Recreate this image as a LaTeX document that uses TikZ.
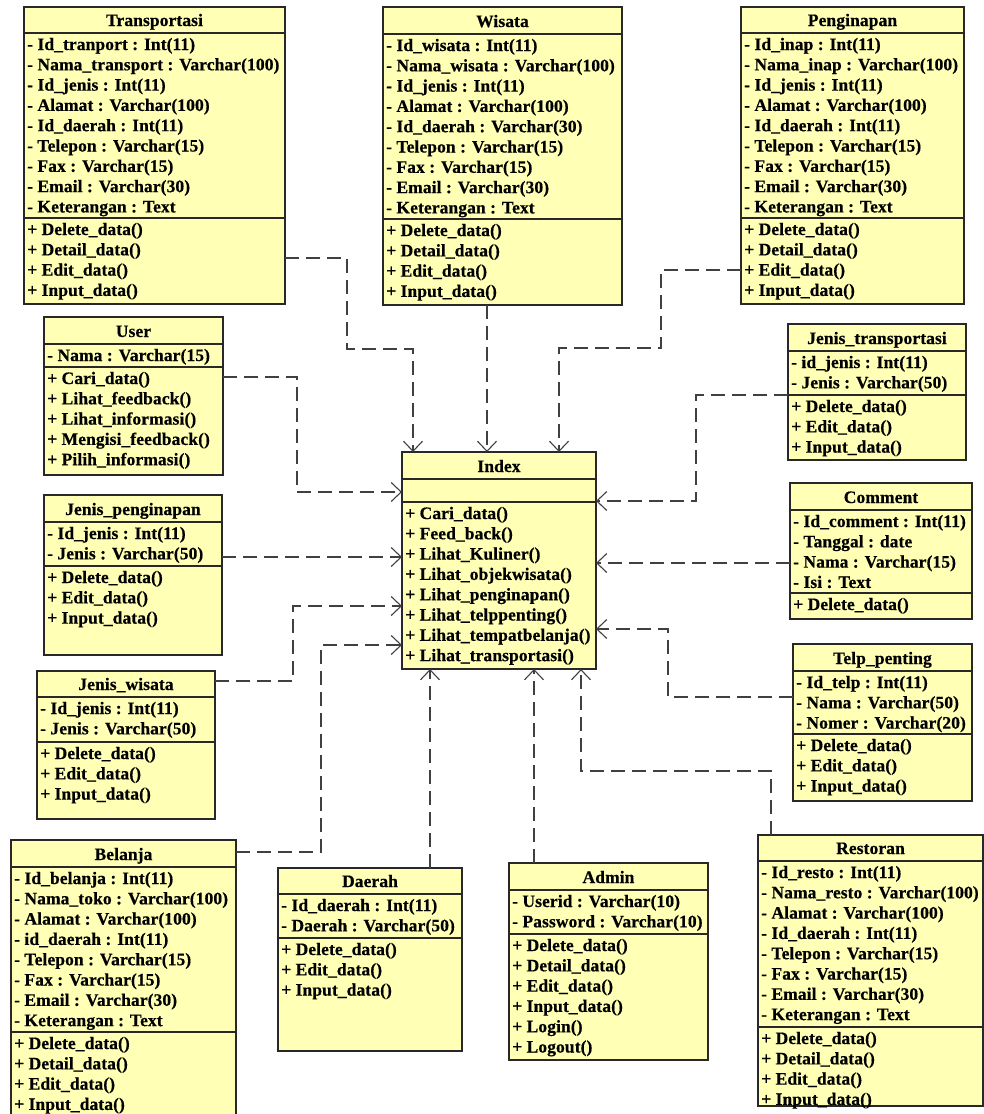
\documentclass[tikz,border=0pt]{standalone}
\usepackage{fontspec}
\setmainfont{Liberation Serif}
\newfontfamily\umlface[LetterSpace=0.5, BoldFeatures={FakeBold=0.5}]{Liberation Serif}
\usetikzlibrary{arrows.meta}

\definecolor{classfill}{RGB}{255,255,181}
\definecolor{edgeline}{RGB}{40,40,40}
\definecolor{linkline}{RGB}{64,64,64}

\newcommand{\umlfont}{\umlface\bfseries\fontsize{17.5}{20}\selectfont}

\tikzset{
  classbox/.style={draw=edgeline, fill=classfill, line width=1.3pt, inner sep=0pt, outer sep=0pt},
  sepline/.style={draw=edgeline, line width=1.1pt},
  classtitle/.style={anchor=base, inner sep=0pt, font=\umlfont},
  member/.style={anchor=base west, inner sep=0pt, font=\umlfont},
  dep/.style={draw=linkline, line width=1.1pt, dash pattern=on 14pt off 7pt,
    -{Straight Barb[length=10pt,width=19pt,line width=1.1pt]}},
}

% class frame: name, title, x1, y1, x2, y2, y of header line, y of separator
\newcommand{\umlbox}[8]{%
  \node[classbox, minimum width={(#5-#3)*1pt}, minimum height={(#6-#4)*1pt}]
    (#1) at ({(#3+#5)/2},{(#4+#6)/2}) {};
  \draw[sepline] (#1.west |- 0,#7) -- (#1.east |- 0,#7);
  \draw[sepline] (#1.west |- 0,#8) -- (#1.east |- 0,#8);
  \node[classtitle] (#1-title) at ({(#3+#5)/2},{#7-7}) {#2};
}
% compartment rows: name prefix, left x, top y, list of entries
\newcommand{\umlrows}[4]{%
  \foreach \m [count=\i from 0] in {#4}
    \node[member] (#1\i) at ({#2+3},{#3+17+20.3*\i}) {\m};
}

\begin{document}
\begin{tikzpicture}[x=1pt,y=-1pt]
\clip (0,0) rectangle (984,1114);
\fill[white] (0,0) rectangle (984,1114);

% ---------- classes ----------
\umlbox{trans}{Transportasi}{24}{7}{285}{304}{33}{218}
\umlrows{trans-a}{24}{33}{- Id\_tranport : Int(11), - Nama\_transport : Varchar(100), - Id\_jenis : Int(11), - Alamat : Varchar(100), - Id\_daerah : Int(11), - Telepon : Varchar(15), - Fax : Varchar(15), - Email : Varchar(30), - Keterangan : Text}
\umlrows{trans-m}{24}{218}{+ Delete\_data(), + Detail\_data(), + Edit\_data(), + Input\_data()}

\umlbox{wisata}{Wisata}{383}{7}{622}{305}{34}{219}
\umlrows{wisata-a}{383}{34}{- Id\_wisata : Int(11), - Nama\_wisata : Varchar(100), - Id\_jenis : Int(11), - Alamat : Varchar(100), - Id\_daerah : Varchar(30), - Telepon : Varchar(15), - Fax : Varchar(15), - Email : Varchar(30), - Keterangan : Text}
\umlrows{wisata-m}{383}{219}{+ Delete\_data(), + Detail\_data(), + Edit\_data(), + Input\_data()}

\umlbox{pengin}{Penginapan}{741}{7}{964}{304}{33}{218}
\umlrows{pengin-a}{741}{33}{- Id\_inap : Int(11), - Nama\_inap : Varchar(100), - Id\_jenis : Int(11), - Alamat : Varchar(100), - Id\_daerah : Int(11), - Telepon : Varchar(15), - Fax : Varchar(15), - Email : Varchar(30), - Keterangan : Text}
\umlrows{pengin-m}{741}{218}{+ Delete\_data(), + Detail\_data(), + Edit\_data(), + Input\_data()}

\umlbox{user}{User}{44}{317}{223}{475}{344}{367}
\umlrows{user-a}{44}{344}{- Nama : Varchar(15)}
\umlrows{user-m}{44}{367}{+ Cari\_data(), + Lihat\_feedback(), + Lihat\_informasi(), + Mengisi\_feedback(), + Pilih\_informasi()}

\umlbox{jpeng}{Jenis\_penginapan}{44}{495}{222}{655}{522}{566}
\umlrows{jpeng-a}{44}{522}{- Id\_jenis : Int(11), - Jenis : Varchar(50)}
\umlrows{jpeng-m}{44}{566}{+ Delete\_data(), + Edit\_data(), + Input\_data()}

\umlbox{index}{Index}{402}{452}{596}{669}{479}{502}
\umlrows{index-m}{402}{502}{+ Cari\_data(), + Feed\_back(), + Lihat\_Kuliner(), + Lihat\_objekwisata(), + Lihat\_penginapan(), + Lihat\_telppenting(), + Lihat\_tempatbelanja(), + Lihat\_transportasi()}

\umlbox{jtrans}{Jenis\_transportasi}{788}{324}{966}{460}{351}{395}
\umlrows{jtrans-a}{788}{351}{- id\_jenis : Int(11), - Jenis : Varchar(50)}
\umlrows{jtrans-m}{788}{395}{+ Delete\_data(), + Edit\_data(), + Input\_data()}

\umlbox{comment}{Comment}{790}{483}{972}{619}{510}{593}
\umlrows{comment-a}{790}{510}{- Id\_comment : Int(11), - Tanggal : date, - Nama : Varchar(15), - Isi : Text}
\umlrows{comment-m}{790}{593}{+ Delete\_data()}

\umlbox{telp}{Telp\_penting}{793}{644}{972}{801}{671}{734}
\umlrows{telp-a}{793}{671}{- Id\_telp : Int(11), - Nama : Varchar(50), - Nomer : Varchar(20)}
\umlrows{telp-m}{793}{734}{+ Delete\_data(), + Edit\_data(), + Input\_data()}

\umlbox{jwis}{Jenis\_wisata}{37}{671}{215}{819}{697}{742}
\umlrows{jwis-a}{37}{697}{- Id\_jenis : Int(11), - Jenis : Varchar(50)}
\umlrows{jwis-m}{37}{742}{+ Delete\_data(), + Edit\_data(), + Input\_data()}

\umlbox{belanja}{Belanja}{11}{840}{236}{1125}{867}{1032}
\umlrows{belanja-a}{11}{867}{- Id\_belanja : Int(11), - Nama\_toko : Varchar(100), - Alamat : Varchar(100), - id\_daerah : Int(11), - Telepon : Varchar(15), - Fax : Varchar(15), - Email : Varchar(30), - Keterangan : Text}
\umlrows{belanja-m}{11}{1032}{+ Delete\_data(), + Detail\_data(), + Edit\_data(), + Input\_data()}

\umlbox{daerah}{Daerah}{278}{868}{462}{1051}{894}{938}
\umlrows{daerah-a}{278}{894}{- Id\_daerah : Int(11), - Daerah : Varchar(50)}
\umlrows{daerah-m}{278}{938}{+ Delete\_data(), + Edit\_data(), + Input\_data()}

\umlbox{admin}{Admin}{509}{863}{708}{1060}{890}{934}
\umlrows{admin-a}{509}{890}{- Userid : Varchar(10), - Password : Varchar(10)}
\umlrows{admin-m}{509}{934}{+ Delete\_data(), + Detail\_data(), + Edit\_data(), + Input\_data(), + Login(), + Logout()}

\umlbox{resto}{Restoran}{758}{835}{983}{1106}{861}{1027}
\umlrows{resto-a}{758}{861}{- Id\_resto : Int(11), - Nama\_resto : Varchar(100), - Alamat : Varchar(100), - Id\_daerah : Int(11), - Telepon : Varchar(15), - Fax : Varchar(15), - Email : Varchar(30), - Keterangan : Text}
\umlrows{resto-m}{758}{1027}{+ Delete\_data(), + Detail\_data(), + Edit\_data(), + Input\_data()}

% ---------- dependencies on Index ----------
\draw[dep] (trans.east |- 0,258) -| (347,349) -| (index.north -| 413,0);
\draw[dep] (wisata.south -| 487,0) -- (index.north -| 487,0);
\draw[dep] (pengin.west |- 0,270) -| (661,348) -| (index.north -| 559,0);
\draw[dep] (user.east |- 0,377) -| (297,492) -- (index.west |- 0,492);
\draw[dep] (jpeng.east |- 0,557) -- (index.west |- 0,557);
\draw[dep] (jwis.east |- 0,681) -| (293,606) -- (index.west |- 0,606);
\draw[dep] (belanja.east |- 0,852) -| (321,645) -- (index.west |- 0,645);
\draw[dep] (daerah.north -| 430,0) -- (index.south -| 430,0);
\draw[dep] (admin.north -| 534,0) -- (index.south -| 534,0);
\draw[dep] (resto.north -| 771,0) |- (581,771) -- (index.south -| 581,0);
\draw[dep] (telp.west |- 0,697) -| (668,629) -- (index.east |- 0,629);
\draw[dep] (comment.west |- 0,563) -- (index.east |- 0,563);
\draw[dep] (jtrans.west |- 0,395) -| (696,501) -- (index.east |- 0,501);
\end{tikzpicture}
\end{document}
